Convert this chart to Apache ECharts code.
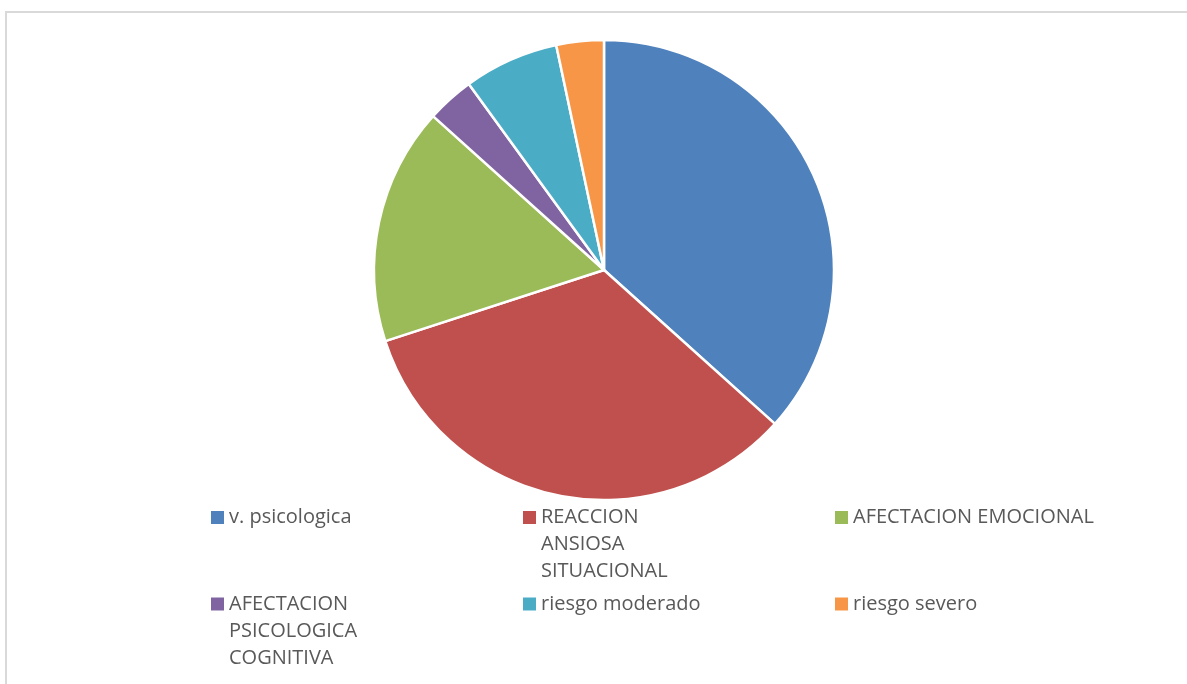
<!DOCTYPE html>
<html>
<head>
<meta charset="utf-8">
<script src="https://cdn.jsdelivr.net/npm/echarts@6/dist/echarts.min.js"></script>
<style>
  html, body { margin: 0; padding: 0; background: #fff; }
  #main { width: 1187px; height: 684px; }
</style>
</head>
<body>
<div id="main"></div>
<script>
// datos del grafico
var categories = ['v. psicologica', 'REACCION ANSIOSA SITUACIONAL', 'AFECTACION EMOCIONAL',
  'AFECTACION PSICOLOGICA COGNITIVA', 'riesgo moderado', 'riesgo severo'];
var values = [11, 10, 5, 1, 2, 1];
// como se parte el texto de la leyenda
var legendLabels = ['v. psicologica', 'REACCION\nANSIOSA\nSITUACIONAL', 'AFECTACION EMOCIONAL',
  'AFECTACION\nPSICOLOGICA\nCOGNITIVA', 'riesgo moderado', 'riesgo severo'];

var colors = ['#4F81BD', '#C0504D', '#9BBB59', '#8064A2', '#4BACC6', '#F79646'];

var chart = echarts.init(document.getElementById('main'), null, { renderer: 'canvas' });

// posicion de cada entrada de leyenda (3 columnas x 2 filas)
var colX = [211, 523, 835];
var rowIconTop = [511, 597.5];
var LINE_H = 27;

var legends = categories.map(function (name, i) {
  var lines = legendLabels[i].split('\n');
  var n = lines.length;
  // el texto va centrado en el icono: lineas vacias arriba para que
  // la primera linea quede a la altura del cuadrito
  var blank = [];
  for (var k = 0; k < n - 1; k++) blank.push('\u00a0');
  var label = blank.concat(lines).join('\n');
  var blockH = (2 * n - 1) * LINE_H;
  var iconH = 13;
  var top = rowIconTop[Math.floor(i / 3)] + iconH / 2 - blockH / 2;
  return {
    data: [name],
    left: colX[i % 3],
    top: top,
    padding: 0,
    itemWidth: 13,
    itemHeight: iconH,
    itemGap: 0,
    icon: 'rect',
    selectedMode: false,
    itemStyle: { borderWidth: 0 },
    formatter: function () { return label; },
    textStyle: {
      fontFamily: 'Open Sans',
      fontSize: 20,
      color: '#595959',
      lineHeight: LINE_H
    }
  };
});

var option = {
  animation: false,
  color: colors,
  graphic: [{
    type: 'rect',
    shape: { x: 6, y: 12, width: 1200, height: 700 },
    style: { fill: 'none', stroke: '#d9d9d9', lineWidth: 2 },
    silent: true
  }],
  legend: legends,
  series: [{
    type: 'pie',
    center: [604, 270],
    radius: 230,
    startAngle: 90,
    clockwise: true,
    label: { show: false },
    labelLine: { show: false },
    emphasis: { disabled: true },
    itemStyle: { borderColor: '#ffffff', borderWidth: 2.5 },
    data: categories.map(function (name, i) {
      return { name: name, value: values[i] };
    })
  }]
};

chart.setOption(option);
</script>
</body>
</html>
